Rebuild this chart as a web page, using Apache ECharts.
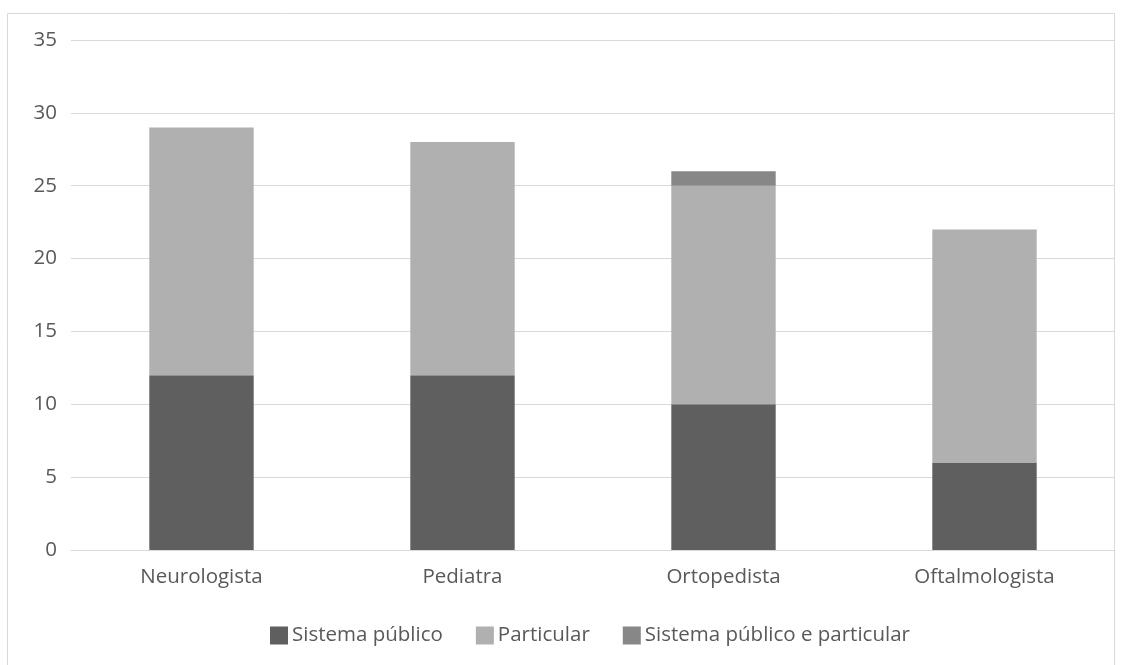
<!DOCTYPE html>
<html><head><meta charset="utf-8">
<script src="https://cdn.jsdelivr.net/npm/echarts@6/dist/echarts.min.js"></script>
<style>html,body{margin:0;padding:0;background:#fff}#c{width:1127px;height:665px}</style>
</head><body><div id="c"></div>
<script>
const categories = ['Neurologista', 'Pediatra', 'Ortopedista', 'Oftalmologista'];
const sistemaPublico = [12, 12, 10, 6];
const particular = [17, 16, 15, 16];
const ambos = [0, 0, 1, 0];
const seriesNames = ['Sistema público', 'Particular', 'Sistema público e particular'];
const yTicks = [0, 5, 10, 15, 20, 25, 30, 35];

const font = '"Open Sans", sans-serif';
const fs = 20.5;
const chart = echarts.init(document.getElementById('c'), null, {renderer: 'canvas'});
chart.setOption({
  animation: false,
  backgroundColor: '#fff',
  graphic: [{type: 'rect', shape: {x: 7.5, y: 13.5, width: 1107, height: 700}, style: {fill: 'none', stroke: '#d9d9d9', lineWidth: 1}, silent: true}],
  grid: {left: 71, right: 12, top: 40, bottom: 115},
  legend: {
    top: 620, left: 265, itemWidth: 18, itemHeight: 18, itemGap: 33,
    icon: 'rect',
    textStyle: {color: '#595959', fontSize: fs, fontFamily: font, padding: [0, 0, 0, -1]},
    data: seriesNames
  },
  xAxis: {
    type: 'category', data: categories,
    axisLine: {lineStyle: {color: '#d9d9d9'}}, axisTick: {show: false},
    axisLabel: {color: '#595959', fontSize: fs, fontFamily: font, margin: 17}
  },
  yAxis: {
    type: 'value', min: 0, max: yTicks[yTicks.length - 1], interval: 5,
    axisLine: {show: false}, axisTick: {show: false},
    splitLine: {lineStyle: {color: '#d9d9d9', width: 1}},
    axisLabel: {color: '#595959', fontSize: fs, fontFamily: font, margin: 14}
  },
  series: [
    {name: seriesNames[0], type: 'bar', stack: 's', data: sistemaPublico, barWidth: '40%', itemStyle: {color: '#5f5f5f'}},
    {name: seriesNames[1], type: 'bar', stack: 's', data: particular, barWidth: '40%', itemStyle: {color: '#b0b0b0'}},
    {name: seriesNames[2], type: 'bar', stack: 's', data: ambos, barWidth: '40%', itemStyle: {color: '#878787'}}
  ]
});
</script></body></html>
